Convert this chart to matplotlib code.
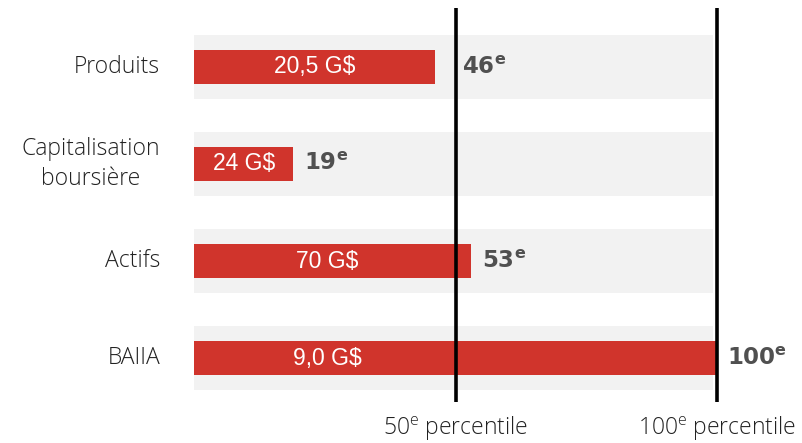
import matplotlib
matplotlib.use("Agg")
import matplotlib.pyplot as plt

categories = ["Produits", "Capitalisation\nboursière", "Actifs", "BAIIA"]
percentiles = [46, 19, 53, 100]
value_labels = ["20,5 G$", "24 G$", "70 G$", "9,0 G$"]
ref_lines = [50, 100]
ref_labels = ["50$^{e}$ percentile", "100$^{e}$ percentile"]

RED = "#d0342c"
BAND = "#f2f2f2"
GREY_TXT = "#505050"
BAND_END = 99.2

plt.rcParams["mathtext.default"] = "regular"

fig = plt.figure(figsize=(8.02, 4.43), dpi=100)
W, H = 802, 443
x0, x1 = 194, 717
ax = fig.add_axes([x0 / W, 0, (x1 - x0) / W, 1])
ax.set_xlim(0, 100)
# rows are 97 px apart, first centre at 66 px from the top
ax.set_ylim((H - 67) / 97, -67 / 97)
ax.axis("off")

ys = list(range(len(categories)))

ax.barh(ys, [BAND_END] * len(ys), height=0.66, left=0, color=BAND, zorder=1)
ax.barh(ys, percentiles, height=0.35, left=0, color=RED, zorder=2)

for y, p, cat, lab in zip(ys, percentiles, categories, value_labels):
    ax.text(-34 / 5.23, y, cat, ha="right", va="center", multialignment="center",
            fontsize=16.5, family="Open Sans", fontweight="light", color="#222222",
            linespacing=1.35, clip_on=False)
    ax.text(min(p / 2, 25.5), y, lab, ha="center", va="center", fontsize=16.5,
            family="Liberation Sans", color="white", zorder=3)
    # push the rank label past the 50th line when the bar stops just short of it
    if 40 < p < 50:
        lx, off = 50, 4.5
    else:
        lx, off = p, 7.5
    ax.annotate(f"{p}$^{{e}}$", xy=(lx, y), xytext=(off, 0), textcoords="offset points",
                ha="left", va="center", fontsize=16.5, family="DejaVu Sans",
                fontweight="bold", color=GREY_TXT, zorder=3, annotation_clip=False)

for x, lab in zip(ref_lines, ref_labels):
    ax.plot([x, x], [-59 / 97, 335 / 97], color="black", lw=2.6, zorder=4,
            solid_capstyle="butt", clip_on=False)
    ax.text(x, 362 / 97, lab, ha="center", va="center", fontsize=16.5,
            family="Open Sans", fontweight="light", color="#222222", clip_on=False)

fig.savefig("out.png", dpi=100)
